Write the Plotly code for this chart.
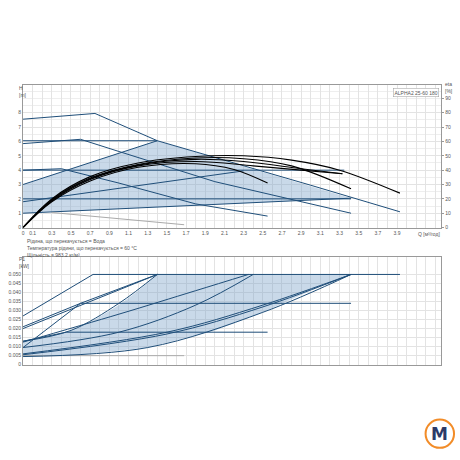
import plotly.graph_objects as go

# --- H(Q) curves: fixed speed / max curves
q_max8 = [0, 0.75, 1.4, 2.0, 3.0, 3.93]
h_max8 = [7.55, 7.95, 6.05, 4.9, 2.95, 1.1]
q_max6 = [0, 0.6, 1.0, 2.0, 3.42]
h_max6 = [5.85, 6.15, 5.3, 3.2, 1.0]
q_max4 = [0, 0.4, 1.0, 1.8, 2.55]
h_max4 = [4.0, 4.1, 3.1, 1.65, 0.8]
q_min = [0.3, 1.0, 1.68]
h_min = [1.05, 0.6, 0.2]

# constant / proportional pressure lines
q_cp6 = [0, 1.4]; h_cp6 = [6.05, 6.05]
q_cp4 = [0, 3.35]; h_cp4 = [4.0, 4.0]
q_cp2 = [0, 3.42]; h_cp2 = [2.0, 2.0]
q_pp1 = [0, 1.4]; h_pp1 = [3.0, 6.05]
q_pp2 = [0, 2.3]; h_pp2 = [1.8, 3.95]
q_pp3 = [0, 3.42]; h_pp3 = [1.0, 2.05]

# shaded area (AUTOADAPT range)
q_area = [0, 0, 1.4, 3.42, 0]
h_area = [1.0, 3.0, 6.05, 2.05, 1.0]

# efficiency curves (black)
q_eta = [
    [0, 0.3, 0.7, 1.2, 1.8, 2.3, 2.8, 3.3, 3.93],
    [0, 0.3, 0.7, 1.2, 1.8, 2.3, 2.8, 3.42],
    [0, 0.3, 0.7, 1.2, 1.8, 2.4, 2.9, 3.33],
    [0, 0.3, 0.7, 1.2, 1.8, 2.2, 2.55],
    [0, 0.3, 0.7, 1.2, 1.8, 2.3, 2.9, 3.33],
]
h_eta = [
    [0, 2.0, 3.55, 4.5, 4.95, 5.0, 4.7, 4.0, 2.4],
    [0, 1.95, 3.45, 4.4, 4.85, 4.8, 4.3, 2.7],
    [0, 1.85, 3.35, 4.3, 4.6, 4.3, 4.0, 3.75],
    [0, 1.8, 3.25, 4.2, 4.45, 4.05, 3.1],
    [0, 1.9, 3.4, 4.35, 4.75, 4.6, 4.1, 3.75],
]

# --- P1(Q) curves
q_p_lines = [[0, 0.73, 3.93], [0, 0.6, 1.4], [0, 1.4], [0, 0.45, 2.55], [0, 0.6, 3.42], [0, 1.68]]
p_p_lines = [[0.027, 0.050, 0.050], [0.021, 0.034, 0.050], [0.020, 0.050], [0.013, 0.018, 0.018],
             [0.0095, 0.034, 0.034], [0.005, 0.005]]
q_p_curves = [
    [0, 0.5, 1.0, 1.4],
    [0, 1.0, 1.8, 2.35],
    [0, 1.0, 1.8, 2.4],
    [0, 1.5, 2.5, 3.42],
    [0, 1.5, 2.5, 3.42],
    [0, 1.3, 2.5, 3.42],
]
p_p_curves = [
    [0.013, 0.019, 0.034, 0.050],
    [0.0125, 0.028, 0.041, 0.050],
    [0.0095, 0.018, 0.033, 0.050],
    [0.006, 0.018, 0.033, 0.050],
    [0.0055, 0.017, 0.032, 0.050],
    [0.0045, 0.0095, 0.029, 0.050],
]
q_parea = [0, 0.25, 0.5, 0.75, 1.0, 1.2, 1.4, 3.42, 3.0, 2.5, 2.0, 1.3, 0.6, 0]
p_parea = [0.013, 0.0155, 0.019, 0.025, 0.033, 0.041, 0.050, 0.050, 0.041, 0.029, 0.019, 0.0095, 0.0055, 0.0045]

blue = "#1f4e79"
fig = go.Figure()

def add(x, y, xa="x", ya="y", color=blue, width=1, shape="linear", **kw):
    fig.add_trace(go.Scatter(x=x, y=y, xaxis=xa, yaxis=ya, mode="lines",
                             line=dict(color=color, width=width, shape=shape),
                             showlegend=False, hoverinfo="skip", **kw))

add(q_area, h_area, color="rgba(0,0,0,0)", fill="toself", fillcolor="rgba(120,160,200,0.4)")
for q, h in [(q_max8, h_max8), (q_max6, h_max6), (q_max4, h_max4),
             (q_cp6, h_cp6), (q_cp4, h_cp4), (q_cp2, h_cp2),
             (q_pp1, h_pp1), (q_pp2, h_pp2), (q_pp3, h_pp3)]:
    add(q, h)
add(q_min, h_min, color="#aaaaaa")
for q, h in zip(q_eta, h_eta):
    add(q, h, color="black", width=1.1, shape="spline")

add(q_parea, p_parea, "x2", "y2", color="rgba(0,0,0,0)",
    fill="toself", fillcolor="rgba(120,160,200,0.4)")
for q, p in zip(q_p_lines, p_p_lines):
    add(q, p, "x2", "y2", color=blue if p[0] > 0.006 else "#aaaaaa")
for q, p in zip(q_p_curves, p_p_curves):
    add(q, p, "x2", "y2", shape="spline")

xt = [round(i * 0.1, 1) for i in range(44)]
xtxt = [("0" if v == 0 else str(v)) if (v == 0 or round(v * 10) % 2 == 1) and v <= 3.9 else "" for v in xt]
ax = dict(range=[0, 4.36], tickvals=xt, showgrid=True, gridcolor="#e3e3e3", gridwidth=0.5,
          zeroline=False, showline=True, linecolor="#999", mirror=True,
          tickfont=dict(size=5, color="#555"), ticks="", tickangle=0)
fig.update_layout(
    width=460, height=460, margin=dict(l=0, r=0, t=0, b=0),
    paper_bgcolor="white", plot_bgcolor="white",
    font=dict(family="Liberation Sans", size=5, color="#555"),
    xaxis=dict(ax, domain=[0.048, 0.959], anchor="y", ticktext=xtxt),
    yaxis=dict(range=[0, 9.9], domain=[0.502, 0.813], dtick=1, showgrid=True, gridcolor="#e3e3e3",
               minor=dict(dtick=0.5, showgrid=True, gridcolor="#eeeeee"),
               zeroline=False, showline=True, linecolor="#999", mirror=True,
               tickfont=dict(size=5, color="#555"), tickvals=list(range(9))),
    yaxis3=dict(range=[0, 99], overlaying="y", side="right", anchor="x", tickvals=list(range(0, 100, 10)),
                showgrid=False, tickfont=dict(size=5, color="#555"), ticks="outside", ticklen=2,
                showticklabels=True, tickcolor="#999"),
    xaxis2=dict(ax, domain=[0.048, 0.959], anchor="y2", showticklabels=False),
    yaxis2=dict(range=[0, 0.0595], domain=[0.202, 0.437], tickvals=[i * 0.005 for i in range(11)],
                ticktext=["0"] + ["%.3f" % (i * 0.005) for i in range(1, 11)],
                showgrid=True, gridcolor="#e3e3e3", zeroline=False, showline=True, linecolor="#999",
                mirror=True, tickfont=dict(size=5, color="#555")),
)
add([0.1], [0], ya="y3", color="rgba(0,0,0,0)")

ann = [
    (0.035, 0.818, "H<br>[m]", "left"),
    (0.963, 0.828, "eta<br>[%]", "left"),
    (0.035, 0.445, "P1<br>[kW]", "left"),
    (0.905, 0.498, "Q [м³/год]", "left"),
    (0.052, 0.483, "Рідина, що перекачується = Вода", "left"),
    (0.052, 0.468, "Температура рідини, що перекачується = 60 °C", "left"),
    (0.052, 0.453, "Щільність = 983.2 кг/м³", "left"),
]
for x, y, t, al in ann:
    fig.add_annotation(x=x, y=y, xref="paper", yref="paper", text=t, showarrow=False,
                       xanchor=al, yanchor="top", align="left", font=dict(size=5, color="#555"))
fig.add_annotation(x=0.955, y=0.807, xref="paper", yref="paper", text="ALPHA2 25-60 180",
                   showarrow=False, xanchor="right", yanchor="top", bordercolor="#999",
                   borderwidth=0.5, borderpad=1, bgcolor="white", font=dict(size=5, color="#555"))

# logo
fig.add_shape(type="circle", xref="paper", yref="paper", x0=0.925, x1=0.987, y0=0.02, y1=0.082,
              line=dict(color="#f28c28", width=2), fillcolor="white")
fig.add_annotation(x=0.956, y=0.051, xref="paper", yref="paper", text="<b>M</b>", showarrow=False,
                   yanchor="middle", xanchor="center",
                   font=dict(size=17, color="#2b3a67", family="DejaVu Sans"))

fig.write_html("out.html", config={"displayModeBar": False},
               post_script="document.body.style.margin='0';document.body.style.overflow='hidden';")
